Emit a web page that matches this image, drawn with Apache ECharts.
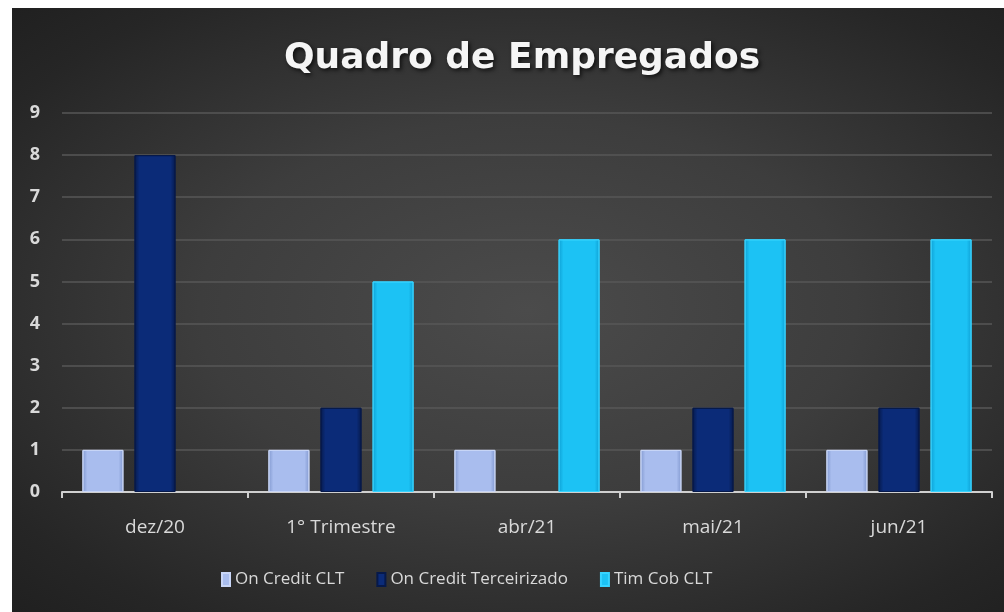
<!DOCTYPE html>
<html>
<head>
<meta charset="utf-8">
<script src="https://cdn.jsdelivr.net/npm/echarts@6/dist/echarts.min.js"></script>
<style>
  html, body { margin: 0; padding: 0; background: #fff; }
  .bg {
    position: absolute; left: 12px; top: 8px; width: 992px; height: 604px;
    background: radial-gradient(ellipse at 52% 50%, #4b4b4b 0%, #3d3d3d 45%, #262626 85%, #202020 100%);
  }
  #echart { position: absolute; left: 0; top: 0; width: 1004px; height: 612px; }
</style>
</head>
<body>
<div class="bg"></div>
<div id="echart"></div>
<script>
// dados do gráfico
const categorias = ['dez/20', '1° Trimestre', 'abr/21', 'mai/21', 'jun/21'];
const onCreditCLT = [1, 1, 1, 1, 1];
const onCreditTerceirizado = [8, 2, null, 2, 2];
const timCobCLT = [null, 5, 6, 6, 6];
const yTicks = [0, 1, 2, 3, 4, 5, 6, 7, 8, 9];

// gradiente horizontal pra dar efeito de bisel nas barras
function bevel(edge, mid) {
  return new echarts.graphic.LinearGradient(0, 0, 1, 0, [
    { offset: 0, color: edge },
    { offset: 0.12, color: mid },
    { offset: 0.88, color: mid },
    { offset: 1, color: edge }
  ]);
}

const labelColor = '#d9d9d9';
const font = '"Open Sans", sans-serif';

let myChart = echarts.init(document.getElementById('echart'));
let option = {
  backgroundColor: 'transparent',
  title: {
    text: 'Quadro de Empregados',
    left: 279,
    top: 36,
    textStyle: {
      color: '#f5f5f5',
      fontSize: 36,
      fontWeight: 'bold',
      fontFamily: '"DejaVu Sans", sans-serif',
      textShadowColor: 'rgba(0,0,0,0.7)',
      textShadowBlur: 4,
      textShadowOffsetX: 2,
      textShadowOffsetY: 2
    }
  },
  legend: {
    top: 566,
    left: 216,
    icon: 'rect',
    itemWidth: 8,
    itemHeight: 13,
    itemGap: 32,
    textStyle: { color: labelColor, fontSize: 17, fontFamily: font }
  },
  grid: { left: 62, right: 12, top: 113, bottom: 120 },
  xAxis: {
    type: 'category',
    data: categorias,
    axisLine: { lineStyle: { color: '#d0d0d0', width: 2 } },
    axisTick: { show: true, length: 6, lineStyle: { color: '#d0d0d0', width: 2 } },
    axisLabel: { color: labelColor, fontSize: 19, fontFamily: font, margin: 26 }
  },
  yAxis: {
    type: 'value',
    min: yTicks[0],
    max: yTicks[yTicks.length - 1],
    interval: 1,
    axisLine: { show: false },
    axisTick: { show: false },
    axisLabel: { color: labelColor, fontSize: 18, fontWeight: 'bold', fontFamily: font, margin: 22 },
    splitLine: { lineStyle: { color: '#575757', width: 1.5 } }
  },
  series: [
    {
      name: 'On Credit CLT',
      type: 'bar',
      barWidth: 41,
      barGap: '27%',
      data: onCreditCLT,
      itemStyle: { color: bevel('#8198cf', '#a9bdee'), borderColor: '#c9d6f7', borderWidth: 1 }
    },
    {
      name: 'On Credit Terceirizado',
      type: 'bar',
      barWidth: 41,
      data: onCreditTerceirizado,
      itemStyle: { color: bevel('#061a4c', '#0b2b78'), borderColor: '#06194a', borderWidth: 1 }
    },
    {
      name: 'Tim Cob CLT',
      type: 'bar',
      barWidth: 41,
      data: timCobCLT,
      itemStyle: { color: bevel('#0ea0d4', '#1cc2f4'), borderColor: '#37d3ff', borderWidth: 1 }
    }
  ]
};
myChart.setOption(option);
</script>
</body>
</html>
